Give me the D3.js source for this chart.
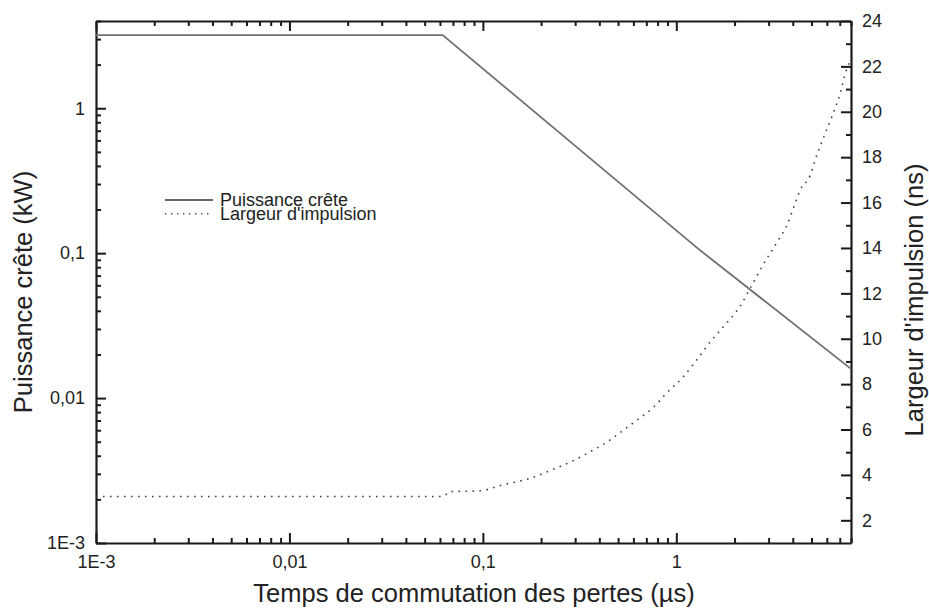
<!DOCTYPE html>
<html>
<head>
<meta charset="utf-8">
<script src="https://cdn.jsdelivr.net/npm/d3@7"></script>
<style>
  body { margin: 0; background: white; }
  svg text { font-family: Arial, "Liberation Sans", sans-serif; fill: #222; }
</style>
</head>
<body>
<div id="chart"></div>
<script>

// peak power (kW) vs switching time of losses (us)
var powerTime = [0.001, 0.062, 1.3, 8];
var powerKW = [3.2, 3.2, 0.107, 0.0159];

// pulse width (ns) vs switching time (us)
var widthTime = [0.001, 0.062, 0.0676, 0.0967, 0.125, 0.1755, 0.227, 0.294, 0.351, 0.455, 0.533,
    0.637, 0.762, 0.893, 1.07, 1.23, 1.5, 1.75, 2.14, 2.46, 2.77, 3.37, 3.73, 4.11, 4.37,
    4.92, 5.22, 5.88, 6.37, 7.03, 7.52, 8.0];
var widthNs = [3.05, 3.05, 3.26, 3.30, 3.55, 3.85, 4.22, 4.63, 4.98, 5.54, 5.98,
    6.46, 6.98, 7.62, 8.26, 8.89, 9.87, 10.53, 11.44, 12.37, 13.17, 14.35, 15.0, 15.96, 16.55,
    17.2, 17.87, 19.05, 19.78, 20.81, 21.76, 22.3];

// tick labels
var logMajors = [0.001, 0.01, 0.1, 1];
var xTickLabels = ["1E-3", "0,01", "0,1", "1"];
var yTickLabels = ["1E-3", "0,01", "0,1", "1"];
var rightMajors = [2, 4, 6, 8, 10, 12, 14, 16, 18, 20, 22, 24];

var legendLabels = ["Puissance crête", "Largeur d'impulsion"];


var width = 929,
    height = 611;

var plotLeft = 96, plotRight = 851, plotTop = 21, plotBottom = 543;

var svg = d3.select("#chart")
    .append("svg")
    .attr("width", width)
    .attr("height", height);

svg.append("rect")
    .attr("width", "100%")
    .attr("height", "100%")
    .attr("fill", "white");

var x = d3.scaleLog().domain([1e-3, 8]).range([plotLeft, plotRight]);
var yL = d3.scaleLog().domain([1e-3, 4]).range([plotBottom, plotTop]);
var yR = d3.scaleLinear().domain([1, 24]).range([plotBottom, plotTop]);

function isMajor(d) {
    var l = Math.log10(d);
    return Math.abs(l - Math.round(l)) < 1e-6;
}

function logLabel(labels) {
    return function(d) {
        var i = logMajors.findIndex(function(m) { return Math.abs(m - d) / m < 1e-6; });
        return i < 0 ? "" : labels[i];
    };
}

// bottom
var gx = svg.append("g")
    .attr("transform", "translate(0," + plotBottom + ")")
    .call(d3.axisBottom(x)
        .tickValues(x.ticks())
        .tickSizeInner(-9)
        .tickSizeOuter(0)
        .tickPadding(12)
        .tickFormat(logLabel(xTickLabels)));

// top
var gt = svg.append("g")
    .attr("transform", "translate(0," + plotTop + ")")
    .call(d3.axisTop(x)
        .tickValues(x.ticks())
        .tickSizeInner(-9)
        .tickSizeOuter(0)
        .tickFormat(""));

// left
var gy = svg.append("g")
    .attr("transform", "translate(" + plotLeft + ",0)")
    .call(d3.axisLeft(yL)
        .tickValues(yL.ticks())
        .tickSizeInner(-9)
        .tickSizeOuter(0)
        .tickPadding(11)
        .tickFormat(logLabel(yTickLabels)));

// right
var gr = svg.append("g")
    .attr("transform", "translate(" + plotRight + ",0)")
    .call(d3.axisRight(yR)
        .tickValues(d3.range(2, 25))
        .tickSizeInner(-9)
        .tickSizeOuter(0)
        .tickPadding(11)
        .tickFormat(function(d) { return rightMajors.indexOf(d) >= 0 ? d : ""; }));

// shorter minor ticks
gx.selectAll(".tick line").attr("y2", function(d) { return isMajor(d) ? -10 : -5; });
gt.selectAll(".tick line").attr("y2", function(d) { return isMajor(d) ? 10 : 5; });
gy.selectAll(".tick line").attr("x2", function(d) { return isMajor(d) ? 10 : 5; });
gr.selectAll(".tick line").attr("x2", function(d) { return rightMajors.indexOf(d) >= 0 ? -10 : -5; });

svg.selectAll(".domain").attr("stroke", "#1a1a1a").attr("stroke-width", 2.2);
svg.selectAll(".tick line").attr("stroke", "#1a1a1a").attr("stroke-width", 2);
svg.selectAll(".tick text").style("font-size", "18px").attr("fill", "#222");


// curves
var powerLine = d3.line()
    .x(function(d, i) { return x(powerTime[i]); })
    .y(function(d) { return yL(d); });

svg.append("path")
    .datum(powerKW)
    .attr("fill", "none")
    .attr("stroke", "#707070")
    .attr("stroke-width", 1.8)
    .attr("d", powerLine);

var widthLine = d3.line()
    .x(function(d, i) { return x(widthTime[i]); })
    .y(function(d) { return yR(d); })
    .curve(d3.curveMonotoneX);

svg.append("path")
    .datum(widthNs)
    .attr("fill", "none")
    .attr("stroke", "#444")
    .attr("stroke-width", 1.6)
    .attr("stroke-dasharray", "1.6,5.4")
    .attr("d", widthLine);


// legend
var legend = svg.append("g").attr("transform", "translate(165,200)");

legend.selectAll("line")
    .data(legendLabels)
    .enter().append("line")
    .attr("x1", 0)
    .attr("x2", 48)
    .attr("y1", function(d, i) { return i * 13.7; })
    .attr("y2", function(d, i) { return i * 13.7; })
    .attr("stroke", function(d, i) { return i ? "#555" : "#333"; })
    .attr("stroke-width", function(d, i) { return i ? 1.4 : 1.5; })
    .attr("stroke-dasharray", function(d, i) { return i ? "1.4,4.6" : null; });

legend.selectAll("text")
    .data(legendLabels)
    .enter().append("text")
    .attr("x", 55)
    .attr("y", function(d, i) { return i * 13.7; })
    .attr("dy", "0.36em")
    .style("font-size", "18px")
    .text(function(d) { return d; });


// axis titles
svg.append("text")
    .attr("x", 474)
    .attr("y", 602)
    .attr("text-anchor", "middle")
    .style("font-size", "25.5px")
    .text("Temps de commutation des pertes (µs)");

svg.append("text")
    .attr("transform", "translate(31.5,292) rotate(-90)")
    .attr("text-anchor", "middle")
    .style("font-size", "25.5px")
    .text("Puissance crête (kW)");

svg.append("text")
    .attr("transform", "translate(923,300) rotate(-90)")
    .attr("text-anchor", "middle")
    .style("font-size", "25.5px")
    .text("Largeur d'impulsion (ns)");

</script>
</body>
</html>
